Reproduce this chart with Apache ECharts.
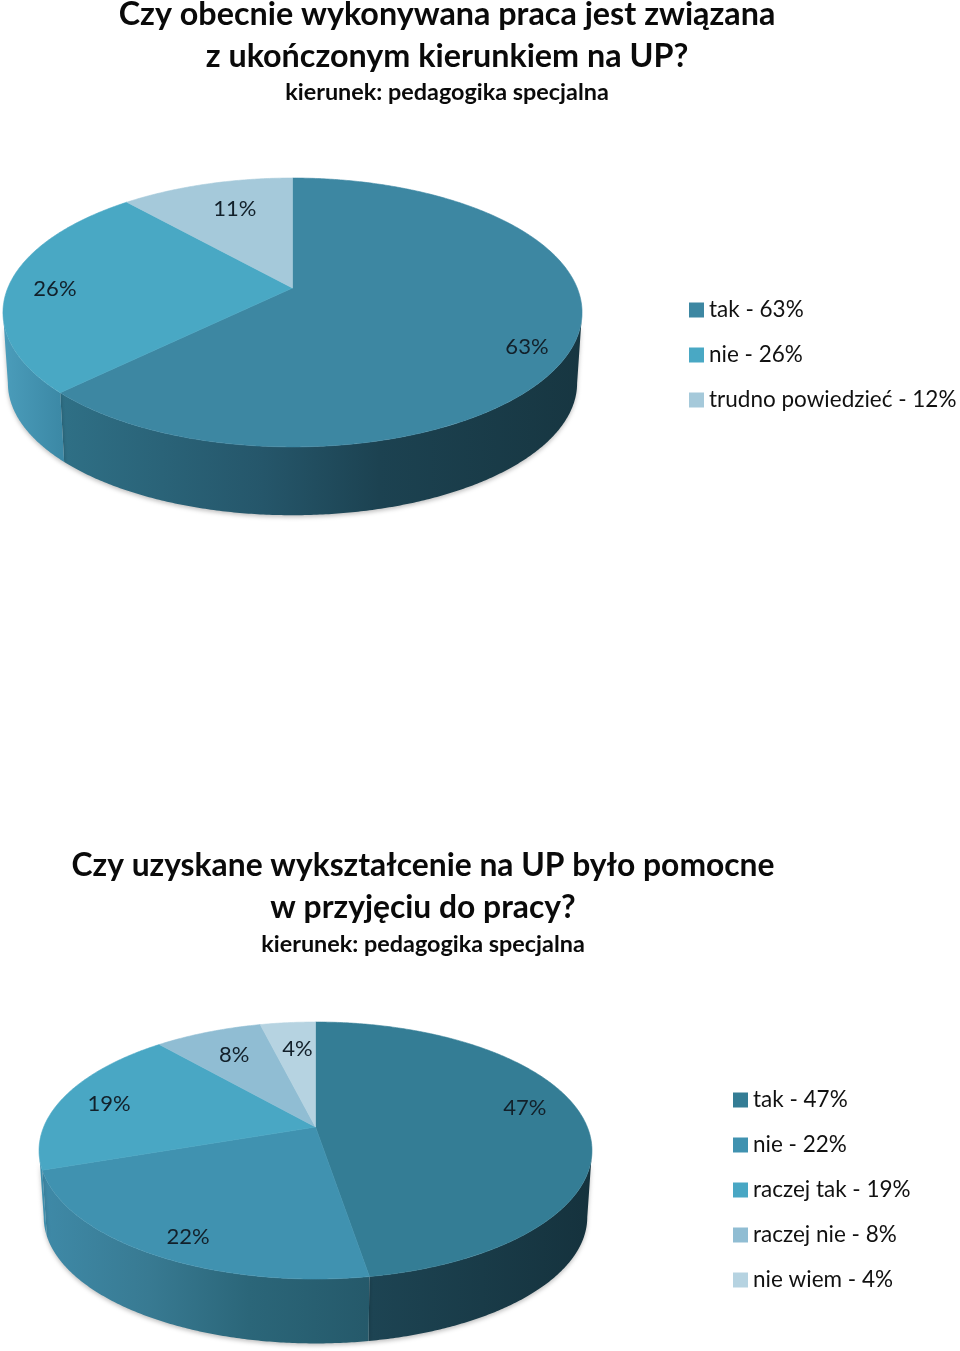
<!DOCTYPE html>
<html><head><meta charset="utf-8">
<style>html,body{margin:0;padding:0;background:#fff}#c{width:960px;height:1351px}</style>
<script src="https://cdn.jsdelivr.net/npm/echarts@6/dist/echarts.min.js"></script>
</head><body><div id="c"></div>
<script>
// ---- data ----
const title1 = 'Czy obecnie wykonywana praca jest związana\nz ukończonym kierunkiem na UP?';
const title2 = 'Czy uzyskane wykształcenie na UP było pomocne\nw przyjęciu do pracy?';
const subtitle = 'kierunek: pedagogika specjalna';
const values1 = [62.6, 25.9, 11.5];
const labels1 = ['63%', '26%', '11%'];
const legend1 = ['tak - 63%', 'nie - 26%', 'trudno powiedzieć - 12%'];
const values2 = [47.4, 22.3, 18.95, 7.5, 3.85];
const labels2 = ['47%', '22%', '19%', '8%', '4%'];
const legend2 = ['tak - 47%', 'nie - 22%', 'raczej tak - 19%', 'raczej nie - 8%', 'nie wiem - 4%'];

// ---- styles / layout ----
const FONT = 'Lato, Carlito, sans-serif';
const topColors1 = ['#3d87a2', '#49a8c4', '#a5c9da'];
const wallStops1 = [
  [[0,'#2f7289'],[0.1,'#2f7086'],[0.45,'#25566a'],[0.65,'#1c4251'],[1,'#173641']],
  [[0,'#4b9dbb'],[0.1,'#3c89a6'],[1,'#3c89a6']],
  [[0,'#8fb4c5'],[1,'#8fb4c5']]
];
const topColors2 = ['#347d95', '#4092b0', '#49a7c4', '#90bdd3', '#b6d3e1'];
const wallStops2 = [
  [[0,'#1d4453'],[0.6,'#1d4453'],[1,'#15323d']],
  [[0,'#3f8aa8'],[0.2,'#387a92'],[0.38,'#2b6679'],[0.6,'#25596a'],[1,'#25596a']],
  [[0,'#3f8fad'],[1,'#3f8fad']],
  [[0,'#7aa3b6'],[1,'#7aa3b6']],
  [[0,'#9ab8c6'],[1,'#9ab8c6']]
];
const pieLayout1 = { ax:292.5, ay:288, A:284.7, B:130, k:0.182, s:0.983, dy:71,
  labelOff:[[-3,14],[3,5],[17,11]] };
const pieLayout2 = { ax:315.5, ay:1127, A:271.8, B:124.2, k:0.183, s:0.983, dy:67,
  labelOff:[[-18,-11],[9,5],[8,3],[12,10],[6,13]] };
const LABEL_R = 0.85;

function project(L, theta, r) {
  const u = r * Math.sin(theta), v = r * Math.cos(theta), w = 1 + L.k * v;
  return [L.A * u / w, -L.B * v / w];
}
function arc(L, a, b, scale, dy) {
  const pts = [];
  const n = Math.max(4, Math.ceil((b - a) / (Math.PI / 360)));
  for (let j = 0; j <= n; j++) {
    const p = project(L, a + (b - a) * j / n, 1);
    pts.push([L.ax + p[0] * scale, L.ay + dy + p[1] * scale]);
  }
  return pts;
}
function makeSeries(values, labels, names, topColors, wallStops, L) {
  const total = values.reduce((a, b) => a + b, 0);
  const frontStart = Math.acos(-L.k), frontEnd = 2 * Math.PI - frontStart;
  let acc = 0;
  return values.map((val, i) => {
    const start = acc / total * 2 * Math.PI;
    acc += val;
    const end = acc / total * 2 * Math.PI;
    const mid = (start + end) / 2;
    return {
      type: 'custom', name: names[i], coordinateSystem: 'none', silent: true,
      animation: false, itemStyle: { color: topColors[i] }, data: [[val]],
      renderItem() {
        const children = [];
        const a = Math.max(start, frontStart), b = Math.min(end, frontEnd);
        const left = L.ax - L.A * 1.02, width = L.A * 2.04;
        if (b > a) {
          children.push({ type: 'polygon', z2: 1,
            shape: { points: arc(L, a, b, 1, 0).concat(arc(L, a, b, L.s, L.dy).reverse()) },
            style: { fill: { type: 'linear', x: left, y: 0, x2: left + width, y2: 0, global: true,
              colorStops: wallStops[i].map(s => ({ offset: s[0], color: s[1] })) },
              shadowBlur: 4, shadowColor: 'rgba(0,0,0,0.25)', shadowOffsetY: 2 } });
        }
        children.push({ type: 'polygon', z2: 10, shape: { points: [[L.ax, L.ay]].concat(arc(L, start, end, 1, 0)) },
          style: { fill: topColors[i], stroke: topColors[i], lineWidth: 0.6 } });
        const lp = project(L, mid, LABEL_R);
        const off = L.labelOff[i];
        children.push({ type: 'text', z2: 20, style: { text: labels[i], x: L.ax + lp[0] + off[0], y: L.ay + lp[1] + off[1],
          align: 'center', verticalAlign: 'middle', fill: '#12202a', font: '22px ' + FONT } });
        return { type: 'group', children };
      }
    };
  });
}
function titleOf(text, cx, top, size, gap) {
  return { text, subtext: subtitle, left: cx, top, textAlign: 'center', padding: 0, itemGap: gap,
    textStyle: { fontFamily: FONT, fontWeight: 'bold', fontSize: size, lineHeight: 42, color: '#0a0a0a' },
    subtextStyle: { fontFamily: FONT, fontWeight: 'bold', fontSize: 23.4, lineHeight: 30, color: '#0a0a0a' } };
}
function legendOf(names, left, top) {
  return { data: names.map(n => ({ name: n, icon: 'rect' })), orient: 'vertical', left, top, padding: 0,
    itemWidth: 15, itemHeight: 15, itemGap: 15, selectedMode: false,
    textStyle: { fontFamily: FONT, fontSize: 22.5, lineHeight: 30, color: '#111', padding: 0 } };
}
const chart = echarts.init(document.getElementById('c'), null, { renderer: 'canvas' });
chart.setOption({
  backgroundColor: '#ffffff',
  animation: false,
  title: [titleOf(title1, 447, -6, 32.3, -1), titleOf(title2, 423, 845, 31.8, 0)],
  legend: [legendOf(legend1, 689, 295), legendOf(legend2, 733, 1085)],
  series: [].concat(
    makeSeries(values1, labels1, legend1, topColors1, wallStops1, pieLayout1),
    makeSeries(values2, labels2, legend2, topColors2, wallStops2, pieLayout2))
});
</script></body></html>
